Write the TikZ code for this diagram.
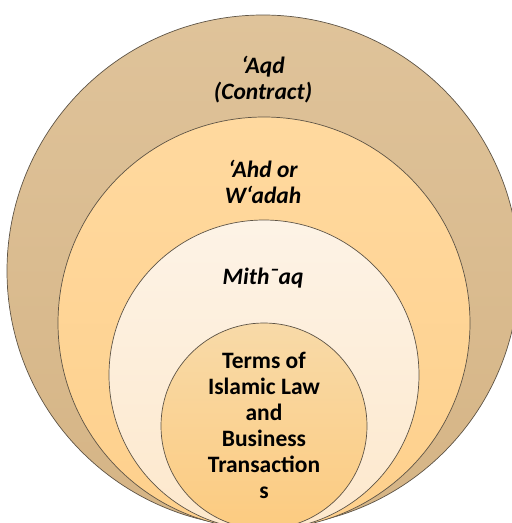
\documentclass[tikz,border=0pt]{standalone}
\usepackage{fontspec}
\setmainfont{Carlito}
\definecolor{ringA}{HTML}{DFC39A}
\definecolor{ringAb}{HTML}{D5B485}
\definecolor{ringB}{HTML}{FFD99F}
\definecolor{ringBb}{HTML}{FED08C}
\definecolor{ringC}{HTML}{FDF3E6}
\definecolor{ringCb}{HTML}{FDE8CC}
\definecolor{ringD}{HTML}{F8DAA8}
\definecolor{ringDb}{HTML}{FCCB80}
\definecolor{edge}{HTML}{5E5446}
\begin{document}
\begin{tikzpicture}[x=1pt,y=-1pt,
  ring/.style={draw=edge,line width=0.7pt},
  lbl/.style={align=center,inner sep=0pt,font=\fontsize{23.5}{26}\selectfont\bfseries\itshape},
  lblup/.style={align=center,inner sep=0pt,font=\fontsize{23.5}{26}\selectfont\bfseries}]
\useasboundingbox (0,0) rectangle (512,523);
\clip (0,0) rectangle (512,523);
\path[ring,top color=ringA,bottom color=ringAb] (263,271) circle (256);
\path[ring,top color=ringB,bottom color=ringBb] (264,323) circle (206);
\path[ring,top color=ringC,bottom color=ringCb] (264,375) circle (155);
\path[ring,top color=ringD,bottom color=ringDb] (264,426) circle (103);
\node[lbl] (aqd) at (263,80) {‘Aqd\\(Contract)};
\node[lbl] (ahd) at (263,182) {‘Ahd or\\W‘adah};
\node[lbl] (mith) at (263,278) {Mith¯aq};
\node[lblup] (terms) at (264,425) {Terms of\\Islamic Law\\and\\Business\\Transaction\\s};
\end{tikzpicture}
\end{document}
